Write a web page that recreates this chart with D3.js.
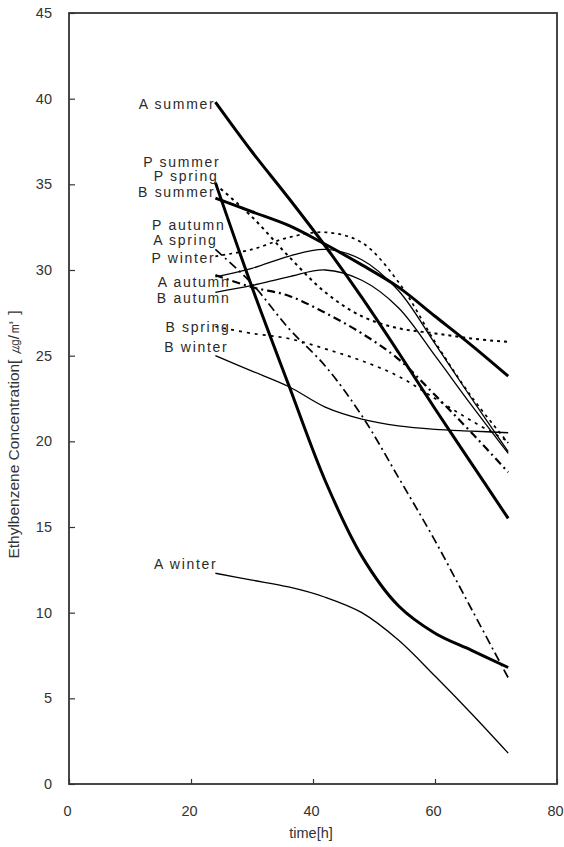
<!DOCTYPE html>
<html>
<head>
<meta charset="utf-8">
<script src="https://cdn.jsdelivr.net/npm/d3@7"></script>
<style>
  body { margin: 0; background: #fff; }
  .tick text { font-family: "Liberation Sans", Arial, sans-serif; font-size: 14.5px; fill: #333; }
  .series-label { font-family: "Liberation Sans", Arial, sans-serif; font-size: 14px; fill: #2a2a2a; letter-spacing: 1.7px; }
</style>
</head>
<body>
<div id="chart-area"></div>
<script>

// data (hours, concentration)
const times = [24, 30, 36, 42, 48, 54, 60, 66, 72];

const aSummer = [39.8, 36.9, 34.2, 31.4, 28.4, 25.2, 21.9, 18.7, 15.5];
const pSummer = [35.1, 29.0, 23.3, 17.7, 13.3, 10.4, 8.8, 7.8, 6.8];
const bSummer = [34.2, 33.4, 32.6, 31.5, 30.3, 29.0, 27.3, 25.6, 23.8];
const pSpring = [35.0, 33.1, 30.8, 28.7, 27.3, 26.6, 26.3, 26.0, 25.8];
const aSpring = [31.2, 29.2, 26.6, 24.4, 21.5, 17.9, 14.2, 10.2, 6.2];
const bSpring = [26.7, 26.3, 26.0, 25.4, 24.7, 23.8, 22.5, 21.2, 20.0];
const pAutumn = [29.7, 29.0, 28.5, 27.5, 26.3, 24.8, 22.7, 20.5, 18.2];
const aAutumn = [29.6, 30.1, 30.8, 31.2, 30.6, 28.8, 25.7, 22.5, 19.4];
const bAutumn = [28.7, 29.1, 29.6, 30.0, 29.4, 27.8, 25.0, 22.1, 19.3];
const pWinter = [30.8, 31.2, 31.9, 32.2, 31.6, 29.3, 25.8, 22.6, 19.9];
const aWinter = [12.3, 11.9, 11.5, 10.9, 10.0, 8.4, 6.3, 4.1, 1.8];
const bWinter = [25.0, 24.1, 23.2, 22.0, 21.3, 20.9, 20.7, 20.6, 20.5];

const seriesNames = ["A summer", "P summer", "P spring", "B summer", "P autumn", "A spring",
                     "P winter", "A autumn", "B autumn", "B spring", "B winter", "A winter"];
const seriesValues = [aSummer, pSummer, pSpring, bSummer, pAutumn, aSpring,
                      pWinter, aAutumn, bAutumn, bSpring, bWinter, aWinter];

const xTicks = [0, 20, 40, 60, 80];
const yTicks = [0, 5, 10, 15, 20, 25, 30, 35, 40, 45];

// line styles per series
const styles = {
    "A summer": {w: 3, dash: null},
    "P summer": {w: 3, dash: null},
    "B summer": {w: 3, dash: null},
    "A autumn": {w: 1.3, dash: null},
    "B autumn": {w: 1.3, dash: null},
    "A winter": {w: 1.3, dash: null},
    "B winter": {w: 1.3, dash: null},
    "P spring": {w: 2, dash: "3,4"},
    "P winter": {w: 1.7, dash: "3,4"},
    "B spring": {w: 1.7, dash: "3,5"},
    "A spring": {w: 1.7, dash: "9,4,2,4"},
    "P autumn": {w: 2.2, dash: "8,4,2,4"}
}

// label offsets from the first point [dx, dy] in px
const labelShift = {
    "A summer": [0, 2], "P summer": [5, -21], "P spring": [3, -8], "B summer": [0, -6],
    "P autumn": [10, -50], "A spring": [2, -9], "P winter": [0, 2], "A autumn": [15, 5],
    "B autumn": [15, 6], "B spring": [15, 0], "B winter": [13, -9], "A winter": [2, -9]
}

// margin conventions
let margin = {top: 13, right: 7, bottom: 63, left: 69},
    width = 564 - margin.left - margin.right,
    height = 847 - margin.top - margin.bottom;

let svg = d3.select("#chart-area").append("svg")
    .attr("width", width + margin.left + margin.right)
    .attr("height", height + margin.top + margin.bottom)
    .append("g")
    .attr("transform", "translate(" + margin.left + "," + margin.top + ")");

let x = d3.scaleLinear().domain([0, 80]).range([0, width]);
let y = d3.scaleLinear().domain([0, 45]).range([height, 0]);

// axes with inward ticks
let yAxis = svg.append("g")
    .call(d3.axisLeft(y).tickValues(yTicks).tickSizeInner(-6).tickSizeOuter(0).tickPadding(17));
let xAxis = svg.append("g")
    .attr("transform", "translate(0," + height + ")")
    .call(d3.axisBottom(x).tickValues(xTicks).tickSizeInner(-5).tickSizeOuter(0).tickPadding(22));

svg.selectAll(".domain").remove();
svg.selectAll(".tick line").attr("stroke", "#333").attr("stroke-width", 1.2);
xAxis.selectAll("text").attr("dx", -2);

// frame
svg.append("rect")
    .attr("width", width)
    .attr("height", height)
    .attr("fill", "none")
    .attr("stroke", "#333")
    .attr("stroke-width", 1.8);

let line = d3.line()
    .x(d => x(d.t))
    .y(d => y(d.v))
    .curve(d3.curveCatmullRom.alpha(0.5));

let series = seriesNames.map((name, i) => ({
    name: name,
    points: times.map((t, j) => ({t: t, v: seriesValues[i][j]}))
}))

svg.selectAll(".series-line").data(series)
    .enter()
    .append("path")
    .attr("class", "series-line")
    .attr("fill", "none")
    .attr("stroke", "#000")
    .attr("stroke-width", d => styles[d.name].w)
    .attr("stroke-dasharray", d => styles[d.name].dash)
    .attr("d", d => line(d.points));

svg.selectAll(".series-label").data(series)
    .enter()
    .append("text")
    .attr("class", "series-label")
    .attr("text-anchor", "end")
    .attr("x", d => x(d.points[0].t) + labelShift[d.name][0])
    .attr("y", d => y(d.points[0].v) + labelShift[d.name][1] + 5)
    .text(d => d.name);

// axis titles
svg.append("text")
    .attr("x", x(40) - 2)
    .attr("y", height + 54)
    .attr("text-anchor", "middle")
    .style("font-family", "'Liberation Sans', Arial, sans-serif")
    .style("font-size", "14.5px")
    .style("fill", "#333")
    .text("time[h]");

svg.append("text")
    .attr("transform", "translate(" + (-50) + "," + (y(20.4)) + ") rotate(-90)")
    .attr("text-anchor", "middle")
    .style("font-family", "'Liberation Sans Narrow', 'Liberation Sans', sans-serif")
    .style("font-size", "15.5px")
    .style("fill", "#333")
    .text("Ethylbenzene Concentration[ ㎍/㎥ ]");

</script>
</body>
</html>
